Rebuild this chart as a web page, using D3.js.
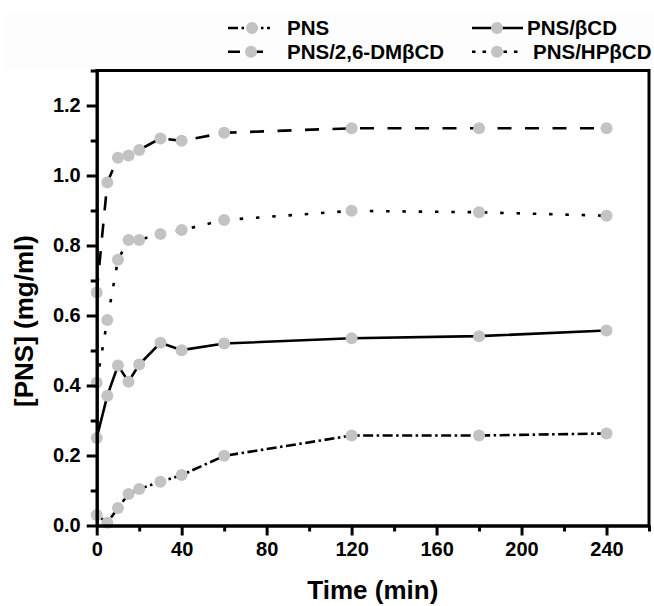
<!DOCTYPE html>
<html>
<head>
<meta charset="utf-8">
<script src="https://cdn.jsdelivr.net/npm/d3@7"></script>
<style>
  html, body { margin: 0; padding: 0; background: #fff; }
  svg { display: block; }
  text { font-family: "Liberation Sans", Arial, sans-serif; font-weight: bold; fill: #000; }
</style>
</head>
<body>
<svg id="chart" width="654" height="606"></svg>
<script>
// Sampling times (min)
const times = [0, 5, 10, 15, 20, 30, 40, 60, 120, 180, 240];

// Dissolved PNS concentration (mg/ml) for each formulation
const pns      = [0.030, 0.008, 0.050, 0.090, 0.104, 0.125, 0.144, 0.199, 0.257, 0.257, 0.263];
const pnsBCD   = [0.250, 0.371, 0.457, 0.411, 0.460, 0.522, 0.501, 0.520, 0.535, 0.541, 0.557];
const pnsDMBCD = [0.666, 0.980, 1.051, 1.057, 1.073, 1.106, 1.099, 1.122, 1.135, 1.135, 1.135];
const pnsHPBCD = [0.408, 0.587, 0.759, 0.816, 0.816, 0.833, 0.844, 0.873, 0.899, 0.895, 0.885];

const seriesNames = ["PNS", "PNS/\u03B2CD", "PNS/2,6-DM\u03B2CD", "PNS/HP\u03B2CD"];

// Axis ticks
const xMajorTicks = [0, 40, 80, 120, 160, 200, 240];
const xMinorTicks = [20, 60, 100, 140, 180, 220, 260];
const yMajorTicks = [0.0, 0.2, 0.4, 0.6, 0.8, 1.0, 1.2];
const yMinorTicks = [0.1, 0.3, 0.5, 0.7, 0.9, 1.1, 1.3];

const svg = d3.select("#chart");

const x = d3.scaleLinear().domain([0, 260]).range([96.7, 649]);
const y = d3.scaleLinear().domain([0, 1.3]).range([525.5, 70.5]);

// very faint legend panel
svg.append("rect").attr("x", 4).attr("y", 13).attr("width", 650).attr("height", 57).attr("fill", "#fdfdfd");

const styles = [
  { name: seriesNames[0], values: pns,      dash: "10,3.5,2.5,3.5", legendDash: "10,3.5,2.5,3.5" },
  { name: seriesNames[1], values: pnsBCD,   dash: null,             legendDash: null },
  { name: seriesNames[2], values: pnsDMBCD, dash: "14,13.5",        legendDash: "12,11" },
  { name: seriesNames[3], values: pnsHPBCD, dash: "3.5,12.8",       legendDash: "3.5,7" }
];

const line = d3.line().x(d => x(d[0])).y(d => y(d[1]));

const plot = svg.append("g");
styles.forEach(s => {
  const pts = times.map((t, i) => [t, s.values[i]]);
  plot.append("path")
    .datum(pts)
    .attr("d", line)
    .attr("fill", "none")
    .attr("stroke", "#000")
    .attr("stroke-width", 2.6)
    .attr("stroke-dasharray", s.dash);
  plot.selectAll(null)
    .data(pts)
    .enter().append("circle")
    .attr("cx", d => x(d[0]))
    .attr("cy", d => y(d[1]))
    .attr("r", 6)
    .attr("fill", "#c3c3c3");
});

// Axes
const axisStroke = 3;
const xMinor = svg.append("g").attr("transform", `translate(0,${y(0)})`)
  .call(d3.axisBottom(x).tickValues(xMinorTicks).tickSize(6).tickFormat("").tickSizeOuter(0));
const xMajor = svg.append("g").attr("transform", `translate(0,${y(0)})`)
  .call(d3.axisBottom(x).tickValues(xMajorTicks).tickSize(10).tickPadding(6).tickSizeOuter(0));
const yMinor = svg.append("g").attr("transform", `translate(${x(0)},0)`)
  .call(d3.axisLeft(y).tickValues(yMinorTicks).tickSize(6).tickFormat("").tickSizeOuter(0));
const yMajor = svg.append("g").attr("transform", `translate(${x(0)},0)`)
  .call(d3.axisLeft(y).tickValues(yMajorTicks).tickSize(10).tickPadding(6).tickFormat(d3.format(".1f")).tickSizeOuter(0));

[xMinor, xMajor, yMinor, yMajor].forEach(g => {
  g.selectAll("line").attr("stroke", "#000").attr("stroke-width", axisStroke);
  g.select(".domain").attr("stroke", "#000").attr("stroke-width", axisStroke);
  g.selectAll("text").attr("font-size", 20).attr("font-family", "Liberation Sans, Arial, sans-serif").attr("font-weight", "bold");
});

// Frame top and right
svg.append("path")
  .attr("d", `M${x(0)},${y(1.3)}H${x(260)}V${y(0)}`)
  .attr("fill", "none").attr("stroke", "#000").attr("stroke-width", axisStroke)
  .attr("stroke-linecap", "square");

// Axis titles
svg.append("text")
  .attr("x", (x(0) + x(260)) / 2).attr("y", 599)
  .attr("text-anchor", "middle").attr("font-size", 26)
  .text("Time (min)");

svg.append("text")
  .attr("transform", "translate(33,321) rotate(-90)")
  .attr("text-anchor", "middle").attr("font-size", 26)
  .text("[PNS] (mg/ml)");

// Legend
const legendItems = [
  { s: styles[0], x1: 228, x2: 270, cx: 252, tx: 287, ly: 28,   ty: 35 },
  { s: styles[2], x1: 228, x2: 270, cx: 251, tx: 287, ly: 51.7, ty: 58.5 },
  { s: styles[1], x1: 472, x2: 523, cx: 497, tx: 527, ly: 28,   ty: 35 },
  { s: styles[3], x1: 472, x2: 520, cx: 497, tx: 533, ly: 51.7, ty: 58.5 }
];
const lg = svg.append("g");
legendItems.forEach(it => {
  lg.append("line")
    .attr("x1", it.x1).attr("x2", it.x2).attr("y1", it.ly).attr("y2", it.ly)
    .attr("stroke", "#000").attr("stroke-width", 2.6)
    .attr("stroke-dasharray", it.s.legendDash);
  lg.append("circle")
    .attr("cx", it.cx).attr("cy", it.ly).attr("r", 6).attr("fill", "#c3c3c3");
  lg.append("text")
    .attr("x", it.tx).attr("y", it.ty).attr("font-size", 20.5)
    .text(it.s.name);
});
</script>
</body>
</html>
